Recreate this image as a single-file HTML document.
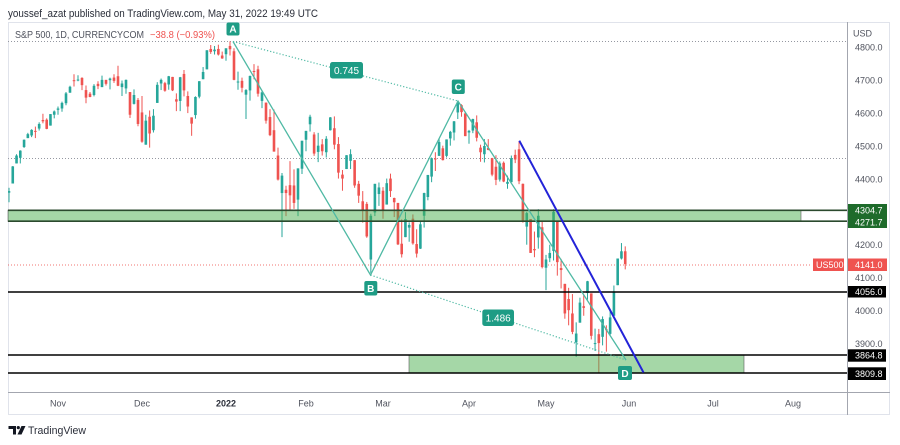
<!DOCTYPE html>
<html>
<head>
<meta charset="utf-8">
<style>
  html,body{margin:0;padding:0;background:#fff;}
  svg{display:block;}
  text{font-family:"Liberation Sans", sans-serif;}
</style>
</head>
<body>
<svg id="s" width="900" height="445" viewBox="0 0 900 445" xmlns="http://www.w3.org/2000/svg">
  <defs>
    <clipPath id="plot"><rect x="8" y="22" width="839.5" height="370"/></clipPath>
  </defs>
  <rect x="0" y="0" width="900" height="445" fill="#ffffff"/>
  <!-- header -->
  <text x="8" y="17" font-size="11" fill="#2a2e39" textLength="310" lengthAdjust="spacingAndGlyphs">youssef_azat published on TradingView.com, May 31, 2022 19:49 UTC</text>
  <!-- frame -->
  <rect x="8.5" y="22.5" width="881" height="392" fill="none" stroke="#e0e3eb" stroke-width="1"/>
  <text x="15" y="38" font-size="10" fill="#50535e" textLength="129" lengthAdjust="spacingAndGlyphs">S&amp;P 500, 1D, CURRENCYCOM</text>
  <text x="150" y="38" font-size="10" fill="#ef5350" textLength="65" lengthAdjust="spacingAndGlyphs">−38.8 (−0.93%)</text>

  <!-- dotted reference lines -->
  <line x1="8" y1="41.5" x2="847" y2="41.5" stroke="#9598a1" stroke-width="1" stroke-dasharray="1 2"/>
  <line x1="8" y1="158.5" x2="847" y2="158.5" stroke="#9598a1" stroke-width="1" stroke-dasharray="1 2"/>
  <line x1="8" y1="265" x2="812" y2="265" stroke="#ef5350" stroke-width="1" stroke-dasharray="1 2" opacity="0.8"/>

  <g id="candles" clip-path="url(#plot)"></g>

  <!-- top zone -->
  <rect x="8" y="210.3" width="793" height="10.9" fill="rgba(76,175,80,0.5)" stroke="rgba(90,90,90,0.6)" stroke-width="1"/>
  <line x1="8" y1="210.3" x2="847" y2="210.3" stroke="#2b4a2e" stroke-width="1.6"/>
  <line x1="8" y1="221.2" x2="847" y2="221.2" stroke="#2b4a2e" stroke-width="1.6"/>

  <!-- 4056 line -->
  <line x1="8" y1="292" x2="847" y2="292" stroke="#000" stroke-width="1.6"/>

  <!-- bottom zone -->
  <rect x="409" y="355" width="335" height="18" fill="rgba(76,175,80,0.5)" stroke="rgba(90,90,90,0.6)" stroke-width="1"/>
  <line x1="8" y1="355" x2="847" y2="355" stroke="#000" stroke-width="1.6"/>
  <line x1="8" y1="373" x2="847" y2="373" stroke="#000" stroke-width="1.6"/>

  <!-- ABCD pattern -->
  <line x1="233" y1="41.5" x2="458" y2="101" stroke="#4fb9a4" stroke-width="1.2" stroke-dasharray="1.2 2"/>
  <line x1="370.5" y1="275" x2="626" y2="360" stroke="#4fb9a4" stroke-width="1.2" stroke-dasharray="1.2 2"/>
  <polyline points="233,41.5 370.5,275 458,101 626,360" fill="none" stroke="#4fb9a4" stroke-width="1.3"/>

  <!-- blue trendline -->
  <line x1="519.3" y1="140.7" x2="643.5" y2="372.5" stroke="#2323d8" stroke-width="2"/>

  <!-- pattern labels -->
  <g font-size="10" font-weight="bold" fill="#fff" text-anchor="middle">
    <rect x="226.5" y="22.5" width="13" height="13" rx="2" fill="#1e9c85"/>
    <text x="233" y="32.5">A</text>
    <rect x="364.3" y="281" width="13" height="14.5" rx="2" fill="#1e9c85"/>
    <text x="370.8" y="292">B</text>
    <rect x="451.8" y="79.5" width="13" height="14.5" rx="2" fill="#1e9c85"/>
    <text x="458.3" y="90.5">C</text>
    <rect x="618" y="366" width="14" height="14" rx="2" fill="#1e9c85"/>
    <text x="625" y="377">D</text>
  </g>
  <g font-size="10" fill="#fff" text-anchor="middle">
    <rect x="330" y="62" width="33" height="16.5" rx="2.5" fill="#1e9c85"/>
    <text x="346.5" y="74">0.745</text>
    <rect x="482.3" y="309.5" width="31.7" height="16.5" rx="2.5" fill="#1e9c85"/>
    <text x="498.2" y="321.5">1.486</text>
  </g>

  <!-- axes -->
  <line x1="8" y1="392.5" x2="890" y2="392.5" stroke="#a3a6af" stroke-width="1"/>
  <line x1="847.5" y1="22" x2="847.5" y2="415" stroke="#a3a6af" stroke-width="1"/>

  <!-- price axis labels -->
  <g font-size="9" fill="#50535e">
    <text x="853" y="36.5">USD</text>
    <text x="855" y="50.5">4800.0</text>
    <text x="855" y="83.5">4700.0</text>
    <text x="855" y="116.5">4600.0</text>
    <text x="855" y="149.5">4500.0</text>
    <text x="855" y="182.5">4400.0</text>
    <text x="855" y="248">4200.0</text>
    <text x="855" y="281">4100.0</text>
    <text x="855" y="314">4000.0</text>
    <text x="855" y="347">3900.0</text>
  </g>
  <!-- colored price tags -->
  <rect x="848" y="204" width="39" height="24" fill="#1e6b2b"/>
  <rect x="813" y="258.5" width="31" height="12.5" fill="#ef5350"/>
  <rect x="848" y="258.5" width="39" height="12.5" fill="#ef5350"/>
  <rect x="848" y="286" width="38" height="11.5" fill="#000"/>
  <rect x="848" y="349.3" width="38" height="12.4" fill="#000"/>
  <rect x="848" y="367.3" width="38" height="12.7" fill="#000"/>
  <g font-size="9" fill="#fff">
    <text x="855" y="213.5">4304.7</text>
    <text x="855" y="225.5">4271.7</text>
    <text x="816" y="268">US500</text>
    <text x="855" y="268">4141.0</text>
    <text x="855" y="295">4056.0</text>
    <text x="855" y="358.7">3864.8</text>
    <text x="855" y="376.8">3809.8</text>
  </g>

  <!-- time axis labels -->
  <g font-size="9" fill="#50535e" text-anchor="middle">
    <text x="58" y="406.5">Nov</text>
    <text x="142" y="406.5">Dec</text>
    <text x="226" y="406.5" font-weight="bold" fill="#2a2e39">2022</text>
    <text x="306" y="406.5">Feb</text>
    <text x="383" y="406.5">Mar</text>
    <text x="469" y="406.5">Apr</text>
    <text x="546" y="406.5">May</text>
    <text x="629" y="406.5">Jun</text>
    <text x="713" y="406.5">Jul</text>
    <text x="793" y="406.5">Aug</text>
  </g>

  <!-- TradingView logo -->
  <g fill="#131722">
    <path d="M8.5,426 h7.5 v8.5 h-3 v-5.5 h-4.5 z"/>
    <circle cx="18.3" cy="427.6" r="1.6"/>
    <path d="M21.5,426 h4 l-4,8.5 h-4 z"/>
  </g>
  <text x="28" y="434" font-size="11" fill="#2a2e39" textLength="58" lengthAdjust="spacingAndGlyphs">TradingView</text>
</svg>
<script>
(function(){
var D=[
[10,13,4358,4373,4329,4363],[10,14,4386,4439,4386,4438],[10,15,4447,4475,4447,4471],[10,18,4464,4487,4447,4486],
[10,19,4497,4520,4494,4519],[10,20,4524,4540,4524,4536],[10,21,4532,4551,4527,4549],[10,22,4546,4559,4524,4545],
[10,25,4553,4572,4547,4567],[10,26,4579,4598,4569,4575],[10,27,4580,4584,4551,4552],[10,28,4562,4597,4562,4597],
[10,29,4595,4608,4584,4605],
[11,1,4610,4620,4595,4614],[11,2,4614,4635,4604,4631],[11,3,4630,4664,4624,4660],[11,4,4662,4683,4662,4680],
[11,5,4700,4718,4681,4697],[11,8,4701,4715,4697,4702],[11,9,4707,4709,4670,4685],[11,10,4670,4684,4630,4647],
[11,11,4659,4664,4648,4649],[11,12,4655,4688,4651,4683],[11,15,4689,4697,4673,4682],[11,16,4679,4714,4679,4701],
[11,17,4701,4701,4684,4689],[11,18,4700,4708,4672,4705],[11,19,4708,4718,4692,4698],[11,22,4712,4744,4682,4683],
[11,23,4679,4699,4652,4690],[11,24,4675,4702,4659,4701],[11,26,4664,4664,4585,4595],[11,29,4628,4672,4626,4655],
[11,30,4640,4646,4560,4567],
[12,1,4602,4652,4510,4513],[12,2,4504,4595,4504,4577],[12,3,4589,4608,4495,4538],[12,6,4548,4612,4541,4592],
[12,7,4631,4694,4631,4686],[12,8,4690,4705,4670,4701],[12,9,4691,4695,4665,4668],[12,10,4687,4713,4671,4712],
[12,13,4710,4710,4667,4669],[12,14,4642,4660,4606,4635],[12,15,4637,4710,4606,4709],[12,16,4719,4731,4651,4669],
[12,17,4652,4666,4600,4620],[12,20,4587,4587,4531,4568],[12,21,4594,4651,4583,4649],[12,22,4650,4697,4645,4697],
[12,23,4703,4740,4703,4725],[12,27,4733,4791,4733,4791],[12,28,4795,4807,4780,4786],[12,29,4788,4804,4778,4793],
[12,30,4795,4808,4775,4778],[12,31,4775,4787,4765,4766],
[1,3,4779,4797,4759,4797],[1,4,4804,4818,4775,4794],[1,5,4788,4797,4700,4701],[1,6,4693,4726,4671,4696],
[1,7,4698,4708,4663,4677],[1,10,4656,4673,4582,4670],[1,11,4669,4714,4638,4713],[1,12,4728,4749,4703,4726],
[1,13,4733,4744,4650,4659],[1,14,4637,4666,4615,4663],[1,18,4632,4632,4568,4577],[1,19,4588,4612,4530,4533],
[1,20,4548,4611,4483,4483],[1,21,4471,4495,4395,4398],[1,24,4357,4418,4223,4410],[1,25,4367,4379,4287,4357],
[1,26,4381,4454,4305,4350],[1,27,4380,4429,4309,4327],[1,28,4337,4432,4287,4432],[1,31,4431,4516,4415,4516],
[2,1,4519,4546,4484,4546],[2,2,4566,4595,4544,4589],[2,3,4535,4542,4470,4477],[2,4,4482,4540,4451,4501],
[2,7,4505,4521,4471,4484],[2,8,4481,4530,4465,4522],[2,9,4548,4588,4547,4587],[2,10,4554,4590,4490,4504],
[2,11,4506,4527,4401,4419],[2,14,4413,4427,4364,4401],[2,15,4430,4472,4430,4472],[2,16,4455,4490,4430,4475],
[2,17,4457,4457,4373,4380],[2,18,4385,4394,4327,4349],[2,22,4332,4363,4267,4305],[2,23,4324,4330,4221,4225],
[2,24,4155,4294,4114,4288],[2,25,4298,4385,4287,4385],[2,28,4354,4389,4318,4374],
[3,1,4364,4375,4279,4306],[3,2,4322,4401,4322,4387],[3,3,4401,4416,4345,4363],[3,4,4342,4343,4284,4329],
[3,7,4327,4327,4199,4201],[3,8,4203,4277,4161,4171],[3,9,4223,4299,4223,4278],[3,10,4252,4268,4209,4260],
[3,11,4279,4292,4200,4204],[3,14,4202,4247,4161,4173],[3,15,4188,4272,4187,4262],[3,16,4288,4358,4252,4357],
[3,17,4345,4412,4335,4412],[3,18,4407,4465,4390,4463],[3,21,4462,4481,4424,4461],[3,22,4470,4522,4470,4512],
[3,23,4493,4501,4456,4457],[3,24,4470,4520,4465,4520],[3,25,4523,4546,4501,4543],[3,28,4541,4576,4517,4575],
[3,29,4602,4637,4582,4632],[3,30,4624,4627,4589,4603],[3,31,4599,4603,4530,4530],
[4,1,4541,4549,4507,4546],[4,4,4547,4583,4539,4582],[4,5,4572,4593,4514,4525],[4,6,4495,4504,4452,4481],
[4,7,4475,4521,4450,4500],[4,8,4494,4521,4487,4488],[4,11,4463,4464,4408,4413],[4,12,4437,4472,4381,4397],
[4,13,4398,4453,4392,4447],[4,14,4449,4453,4390,4392],[4,18,4385,4410,4370,4391],[4,19,4390,4471,4390,4463],
[4,20,4473,4489,4448,4459],[4,21,4490,4513,4384,4393],[4,22,4385,4386,4267,4272],[4,25,4255,4300,4200,4296],
[4,26,4278,4278,4175,4175],[4,27,4187,4240,4162,4183],[4,28,4222,4308,4188,4288],[4,29,4253,4269,4128,4132],
[5,2,4130,4169,4062,4155],[5,3,4159,4200,4147,4175],[5,4,4181,4308,4152,4300],[5,5,4271,4271,4106,4147],
[5,6,4129,4157,4067,4123],[5,9,4081,4081,3975,3991],[5,10,4035,4069,3955,4001],[5,11,3991,4050,3928,3935],
[5,12,3903,3964,3859,3930],[5,13,3963,4039,3963,4024],[5,16,4013,4047,3984,4008],[5,17,4053,4090,4033,4089],
[5,18,4052,4052,3912,3923],[5,19,3899,3945,3877,3901],[5,20,3928,3944,3810,3901],[5,23,3920,3982,3894,3974],
[5,24,3943,3955,3875,3941],[5,25,3929,3999,3925,3979],[5,26,3984,4076,3984,4058],[5,27,4077,4158,4077,4158],
[5,30,4158,4205,4155,4180],[5,31,4180,4195,4125,4141]
];
var P=function(p){return 47.3+(4800-p)*0.329;};
var ax={11:58,12:142,1:226,2:306,3:383,4:469,5:546};
var order=[10,11,12,1,2,3,4,5];
var first={};
D.forEach(function(d,i){ if(first[d[0]]===undefined) first[d[0]]=i; });
function X(i){
  var m=D[i][0];
  if(m===10){ return 58-(first[11]-i)*3.77; }
  var k=order.indexOf(m);
  var nm=order[k+1];
  var s=first[m], e=(nm!==undefined)?first[nm]:D.length;
  var a0=ax[m], a1=(nm!==undefined)?ax[nm]:629;
  return a0+(i-s)*(a1-a0)/(e-s);
}
var h='';
D.forEach(function(d,i){
  var x=X(i); var o=d[2],hi=d[3],lo=d[4],c=d[5];
  var col=c>=o?'#26a69a':'#ef5350';
  var y1=P(Math.max(o,c)), y2=P(Math.min(o,c));
  var bh=Math.max(1,y2-y1);
  h+='<line x1="'+x.toFixed(2)+'" y1="'+P(hi).toFixed(2)+'" x2="'+x.toFixed(2)+'" y2="'+P(lo).toFixed(2)+'" stroke="'+col+'" stroke-width="1"/>';
  h+='<rect x="'+(x-1.3).toFixed(2)+'" y="'+y1.toFixed(2)+'" width="2.6" height="'+bh.toFixed(2)+'" fill="'+col+'"/>';
});
document.getElementById('candles').innerHTML=h;
})();
</script>
</body>
</html>
